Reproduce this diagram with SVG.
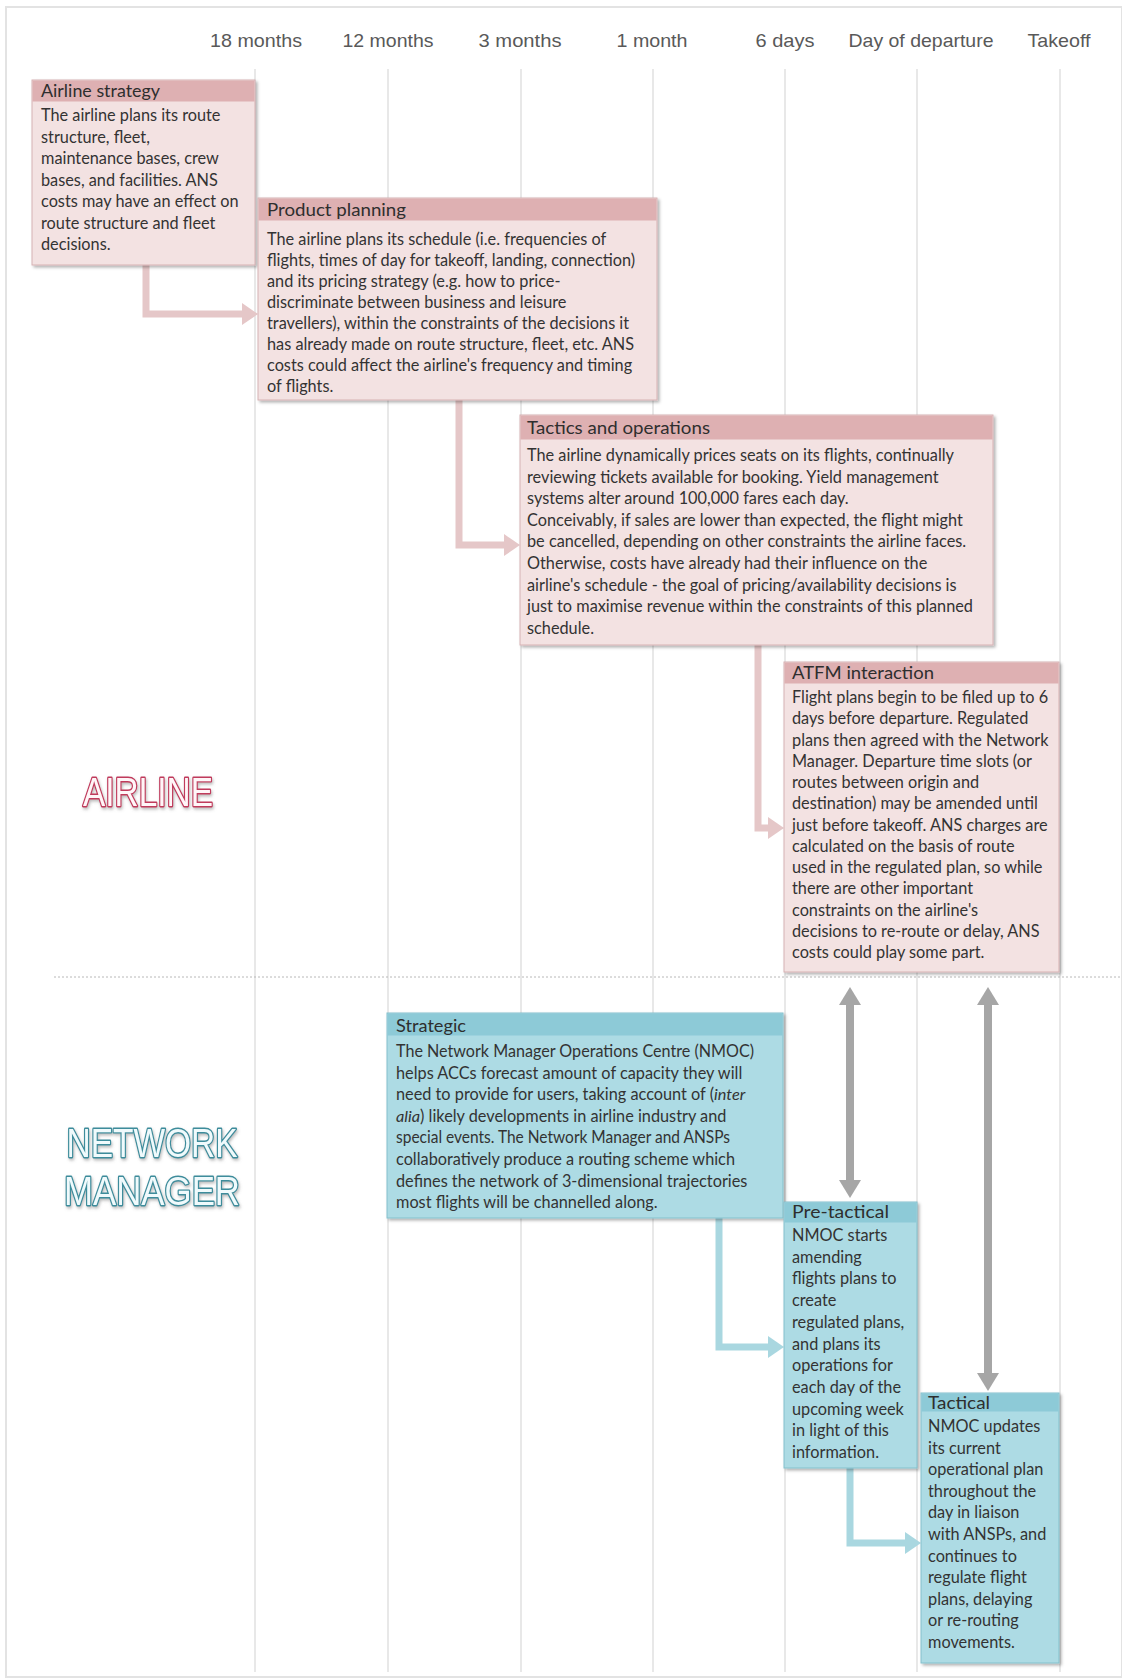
<svg xmlns="http://www.w3.org/2000/svg" width="1122" height="1680" viewBox="0 0 1122 1680">
<style>
.hdr{font-family:"Liberation Sans",Arial,sans-serif;font-size:18.5px;fill:#595959;text-anchor:middle}
.vl{stroke:#d9d9d9;stroke-width:1.2}
.body{font-family:Lato,"Liberation Sans",sans-serif;font-size:16.3px;fill:#333}
.ttl{font-family:Lato,"Liberation Sans",sans-serif;font-size:17px;fill:#2e2e2e}
.pbody{fill:#f3e2e2;stroke:#d6b2b3;stroke-width:1}
.ptitle{fill:#deb0b2}
.bbody{fill:#addbe4;stroke:#83c0cc;stroke-width:1}
.btitle{fill:#8dcad7}
.parr{fill:none;stroke:#e5c7c8;stroke-width:7}
.parrh{fill:#e5c7c8}
.barr{fill:none;stroke:#a9d7e0;stroke-width:7}
.barrh{fill:#a9d7e0}
.garr{stroke:#a6a6a6;stroke-width:8}
.garrh{fill:#a6a6a6}
.big{font-family:"Liberation Sans",Arial,sans-serif;font-size:40px;stroke-width:2.8;paint-order:stroke;stroke-linejoin:round}
</style>
<defs>
<filter id="sh" x="-5%" y="-5%" width="115%" height="115%">
<feDropShadow dx="2" dy="2" stdDeviation="1.5" flood-color="#000" flood-opacity="0.3"/>
</filter>
<filter id="glow" x="-10%" y="-20%" width="120%" height="140%">
<feDropShadow dx="1" dy="2" stdDeviation="1.5" flood-color="#777" flood-opacity="0.5"/>
</filter>
</defs>
<rect x="0" y="0" width="1122" height="1680" fill="#fff"/>
<rect x="6" y="7" width="1116" height="1670" fill="none" stroke="#e3e3e3" stroke-width="2"/>

<g id="timeline">
<line class="vl" x1="255" y1="69" x2="255" y2="1672"/>
<line class="vl" x1="388" y1="69" x2="388" y2="1672"/>
<line class="vl" x1="521" y1="69" x2="521" y2="1672"/>
<line class="vl" x1="653" y1="69" x2="653" y2="1672"/>
<line class="vl" x1="785" y1="69" x2="785" y2="1672"/>
<line class="vl" x1="917" y1="69" x2="917" y2="1672"/>
<line class="vl" x1="1060" y1="69" x2="1060" y2="1672"/>
<line x1="54" y1="977" x2="1122" y2="977" stroke="#b8b8b8" stroke-width="1" stroke-dasharray="2,2"/>
<text class="hdr" x="256" y="47" textLength="92" lengthAdjust="spacingAndGlyphs">18 months</text>
<text class="hdr" x="388" y="47" textLength="91" lengthAdjust="spacingAndGlyphs">12 months</text>
<text class="hdr" x="520" y="47" textLength="83" lengthAdjust="spacingAndGlyphs">3 months</text>
<text class="hdr" x="652" y="47" textLength="71" lengthAdjust="spacingAndGlyphs">1 month</text>
<text class="hdr" x="785" y="47" textLength="59" lengthAdjust="spacingAndGlyphs">6 days</text>
<text class="hdr" x="921" y="47" textLength="145" lengthAdjust="spacingAndGlyphs">Day of departure</text>
<text class="hdr" x="1059" y="47" textLength="63" lengthAdjust="spacingAndGlyphs">Takeoff</text>
</g>

<g id="label-airline" filter="url(#glow)">
<text class="big" x="148" y="806" text-anchor="middle" fill="#fff6f8" stroke="#c03a5c" textLength="130" lengthAdjust="spacingAndGlyphs">AIRLINE</text>
</g>
<g id="label-nm" filter="url(#glow)">
<text class="big" x="152" y="1157" text-anchor="middle" fill="#f0fafc" stroke="#3d8c9b" textLength="171" lengthAdjust="spacingAndGlyphs">NETWORK</text>
<text class="big" x="152" y="1205" text-anchor="middle" fill="#f0fafc" stroke="#3d8c9b" textLength="176" lengthAdjust="spacingAndGlyphs">MANAGER</text>
</g>

<g id="connectors">
<path class="parr" d="M146,265 V314 H246"/>
<polygon class="parrh" points="258,314 242,303 242,325"/>
<path class="parr" d="M459,400 V545 H508"/>
<polygon class="parrh" points="520,545 504,534 504,556"/>
<path class="parr" d="M758,645 V828 H772"/>
<polygon class="parrh" points="784,828 768,817 768,839"/>
<path class="barr" d="M719,1218 V1347 H772"/>
<polygon class="barrh" points="784,1347 768,1336 768,1358"/>
<path class="barr" d="M850,1468 V1543 H909"/>
<polygon class="barrh" points="921,1543 905,1532 905,1554"/>
<line class="garr" x1="850" y1="1002" x2="850" y2="1183"/>
<polygon class="garrh" points="850,987 839,1005 861,1005"/>
<polygon class="garrh" points="850,1198 839,1180 861,1180"/>
<line class="garr" x1="988" y1="1002" x2="988" y2="1376"/>
<polygon class="garrh" points="988,987 977,1005 999,1005"/>
<polygon class="garrh" points="988,1391 977,1373 999,1373"/>
</g>

<g id="airline-strategy">
<rect class="pbody" x="32" y="80" width="223" height="185" filter="url(#sh)"/>
<rect class="ptitle" x="32.5" y="80.5" width="222" height="21"/>
<text class="ttl" x="41" y="97" textLength="119" lengthAdjust="spacingAndGlyphs">Airline strategy</text>
<text class="body" x="41" y="121">
<tspan x="41" dy="0">The airline plans  its route</tspan>
<tspan x="41" dy="21.5">structure, fleet,</tspan>
<tspan x="41" dy="21.5">maintenance bases, crew</tspan>
<tspan x="41" dy="21.5">bases, and facilities. ANS</tspan>
<tspan x="41" dy="21.5">costs may have an effect on</tspan>
<tspan x="41" dy="21.5">route structure and fleet</tspan>
<tspan x="41" dy="21.5">decisions.</tspan>
</text>
</g>

<g id="product-planning">
<rect class="pbody" x="258" y="198" width="399" height="202" filter="url(#sh)"/>
<rect class="ptitle" x="258.5" y="198.5" width="398" height="22"/>
<text class="ttl" x="267" y="216" textLength="139" lengthAdjust="spacingAndGlyphs">Product planning</text>
<text class="body" x="267" y="245">
<tspan x="267" dy="0">The airline plans its schedule (i.e. frequencies  of</tspan>
<tspan x="267" dy="21">flights, times of day for takeoff, landing, connection)</tspan>
<tspan x="267" dy="21">and its pricing strategy (e.g. how to price-</tspan>
<tspan x="267" dy="21">discriminate between business and leisure</tspan>
<tspan x="267" dy="21">travellers), within the constraints of the decisions it</tspan>
<tspan x="267" dy="21">has already made on route structure, fleet, etc. ANS</tspan>
<tspan x="267" dy="21">costs could affect the airline's frequency and timing</tspan>
<tspan x="267" dy="21">of flights.</tspan>
</text>
</g>

<g id="tactics-operations">
<rect class="pbody" x="520" y="415" width="473" height="230" filter="url(#sh)"/>
<rect class="ptitle" x="520.5" y="415.5" width="472" height="24"/>
<text class="ttl" x="527" y="434" textLength="183" lengthAdjust="spacingAndGlyphs">Tactics and operations</text>
<text class="body" x="527" y="461">
<tspan x="527" dy="0">The airline dynamically prices seats on its flights, continually</tspan>
<tspan x="527" dy="21.6">reviewing tickets available for booking. Yield management</tspan>
<tspan x="527" dy="21.6">systems alter around 100,000 fares each day.</tspan>
<tspan x="527" dy="21.6">Conceivably, if sales are lower than expected, the flight might</tspan>
<tspan x="527" dy="21.6">be cancelled, depending on other constraints the airline faces.</tspan>
<tspan x="527" dy="21.6">Otherwise, costs have already had their influence on the</tspan>
<tspan x="527" dy="21.6">airline's schedule - the goal of pricing/availability decisions is</tspan>
<tspan x="527" dy="21.6">just to maximise revenue within the constraints of this planned</tspan>
<tspan x="527" dy="21.6">schedule.</tspan>
</text>
</g>

<g id="atfm-interaction">
<rect class="pbody" x="784" y="662" width="275" height="310" filter="url(#sh)"/>
<rect class="ptitle" x="784.5" y="662.5" width="274" height="21"/>
<text class="ttl" x="792" y="679" textLength="142" lengthAdjust="spacingAndGlyphs">ATFM interaction</text>
<text class="body" x="792" y="703">
<tspan x="792" dy="0">Flight plans begin to be filed up to 6</tspan>
<tspan x="792" dy="21.25">days before departure. Regulated</tspan>
<tspan x="792" dy="21.25">plans then agreed with the Network</tspan>
<tspan x="792" dy="21.25">Manager. Departure time slots (or</tspan>
<tspan x="792" dy="21.25">routes between origin and</tspan>
<tspan x="792" dy="21.25">destination) may be amended until</tspan>
<tspan x="792" dy="21.25">just before takeoff. ANS charges are</tspan>
<tspan x="792" dy="21.25">calculated on the basis of route</tspan>
<tspan x="792" dy="21.25">used in the regulated plan, so while</tspan>
<tspan x="792" dy="21.25">there are other important</tspan>
<tspan x="792" dy="21.25">constraints on the airline's</tspan>
<tspan x="792" dy="21.25">decisions to re-route or delay, ANS</tspan>
<tspan x="792" dy="21.25">costs could play some part.</tspan>
</text>
</g>

<g id="strategic">
<rect class="bbody" x="387" y="1013" width="396" height="205" filter="url(#sh)"/>
<rect class="btitle" x="387.5" y="1013.5" width="395" height="22"/>
<text class="ttl" x="396" y="1032" textLength="70" lengthAdjust="spacingAndGlyphs">Strategic</text>
<text class="body" x="396" y="1057">
<tspan x="396" dy="0" textLength="358" lengthAdjust="spacingAndGlyphs">The Network Manager Operations Centre (NMOC)</tspan>
<tspan x="396" dy="21.6">helps ACCs forecast amount of capacity they will</tspan>
<tspan x="396" dy="21.6">need to provide for users, taking account of (<tspan font-style="italic">inter</tspan></tspan>
<tspan x="396" dy="21.6"><tspan font-style="italic">alia</tspan>) likely developments in airline industry and</tspan>
<tspan x="396" dy="21.6" textLength="334" lengthAdjust="spacingAndGlyphs">special events. The Network Manager and ANSPs</tspan>
<tspan x="396" dy="21.6">collaboratively produce a routing scheme which</tspan>
<tspan x="396" dy="21.6">defines the network of 3-dimensional trajectories</tspan>
<tspan x="396" dy="21.6">most flights will be channelled along.</tspan>
</text>
</g>

<g id="pre-tactical">
<rect class="bbody" x="784" y="1202" width="133" height="266" filter="url(#sh)"/>
<rect class="btitle" x="784.5" y="1202.5" width="132" height="20"/>
<text class="ttl" x="792" y="1218" textLength="97" lengthAdjust="spacingAndGlyphs">Pre-tactical</text>
<text class="body" x="792" y="1241">
<tspan x="792" dy="0">NMOC starts</tspan>
<tspan x="792" dy="21.7">amending</tspan>
<tspan x="792" dy="21.7">flights plans to</tspan>
<tspan x="792" dy="21.7">create</tspan>
<tspan x="792" dy="21.7">regulated plans,</tspan>
<tspan x="792" dy="21.7">and plans its</tspan>
<tspan x="792" dy="21.7">operations for</tspan>
<tspan x="792" dy="21.7">each day of the</tspan>
<tspan x="792" dy="21.7">upcoming week</tspan>
<tspan x="792" dy="21.7">in light of this</tspan>
<tspan x="792" dy="21.7">information.</tspan>
</text>
</g>

<g id="tactical">
<rect class="bbody" x="921" y="1393" width="138" height="270" filter="url(#sh)"/>
<rect class="btitle" x="921.5" y="1393.5" width="137" height="18"/>
<text class="ttl" x="928" y="1409" textLength="62" lengthAdjust="spacingAndGlyphs">Tactical</text>
<text class="body" x="928" y="1432">
<tspan x="928" dy="0">NMOC updates</tspan>
<tspan x="928" dy="21.6">its current</tspan>
<tspan x="928" dy="21.6">operational plan</tspan>
<tspan x="928" dy="21.6">throughout the</tspan>
<tspan x="928" dy="21.6">day in liaison</tspan>
<tspan x="928" dy="21.6">with ANSPs, and</tspan>
<tspan x="928" dy="21.6">continues to</tspan>
<tspan x="928" dy="21.6">regulate flight</tspan>
<tspan x="928" dy="21.6">plans, delaying</tspan>
<tspan x="928" dy="21.6">or re-routing</tspan>
<tspan x="928" dy="21.6">movements.</tspan>
</text>
</g>
</svg>
